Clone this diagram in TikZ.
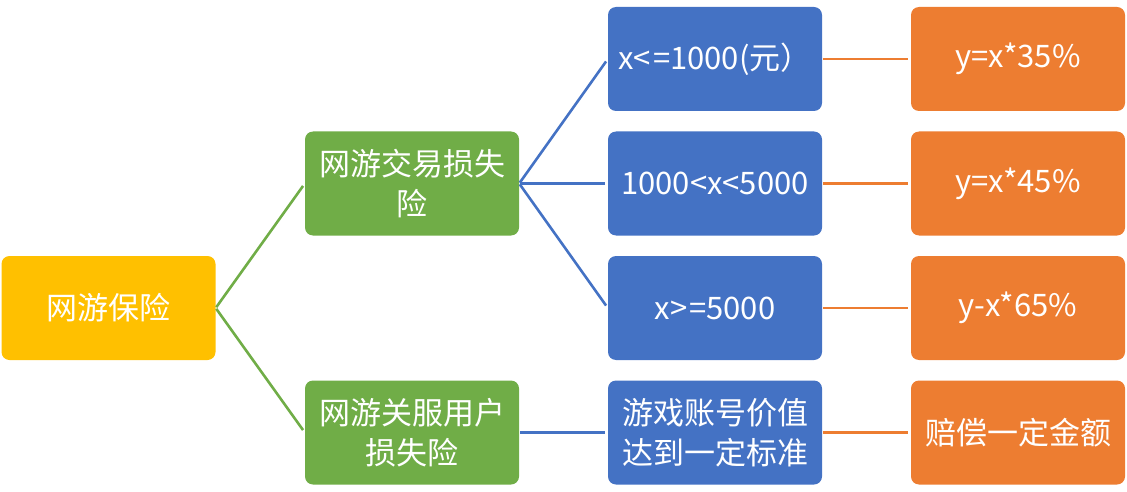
\documentclass[tikz,border=0pt]{standalone}
\usepackage{fontspec}
\setmainfont{Noto Sans CJK SC}
\definecolor{cyellow}{HTML}{FFC000}
\definecolor{cgreen}{HTML}{70AD47}
\definecolor{cblue}{HTML}{4472C4}
\definecolor{corange}{HTML}{ED7D31}
\begin{document}
\begin{tikzpicture}[x=1pt,y=-1pt,
  box/.style={rounded corners=8pt, minimum width=214pt, minimum height=104pt,
    text=white, inner sep=0pt, align=center, text width=212pt,
    font=\fontsize{31}{40}\selectfont},
  conn/.style={line width=2.6pt, shorten <=1pt, shorten >=3pt}]
\useasboundingbox (0,0) rectangle (1127,492);
\node[box, fill=cyellow] (root) at (108.5,308) {网游保险};
\node[box, fill=cgreen] (g1) at (412,183.5) {网游交易损失\\险};
\node[box, fill=cgreen] (g2) at (412,432.5) {网游关服用户\\损失险};
\node[box, fill=cblue] (b1) at (715,59) {x<\kern2pt=1000(元）};
\node[box, fill=cblue] (b2) at (715,183.5) {1000<x<5000};
\node[box, fill=cblue] (b3) at (715,308) {x>\kern2pt=5000};
\node[box, fill=cblue] (b4) at (715,432.5) {游戏账号价值\\达到一定标准};
\node[box, fill=corange] (o1) at (1018,59) {y=x*35\%};
\node[box, fill=corange] (o2) at (1018,183.5) {y=x*45\%};
\node[box, fill=corange] (o3) at (1018,308) {y-x*65\%};
\node[box, fill=corange] (o4) at (1018,432.5) {赔偿一定金额};
\draw[conn, cgreen] (root.east) -- (g1.west);
\draw[conn, cgreen] (root.east) -- (g2.west);
\draw[conn, cblue] (g1.east) -- (b1.west);
\draw[conn, cblue] (g1.east) -- (b2.west);
\draw[conn, cblue] (g1.east) -- (b3.west);
\draw[conn, cblue] (g2.east) -- (b4.west);
\draw[conn, corange] (b1.east) -- (o1.west);
\draw[conn, corange] (b2.east) -- (o2.west);
\draw[conn, corange] (b3.east) -- (o3.west);
\draw[conn, corange] (b4.east) -- (o4.west);
\end{tikzpicture}
\end{document}
